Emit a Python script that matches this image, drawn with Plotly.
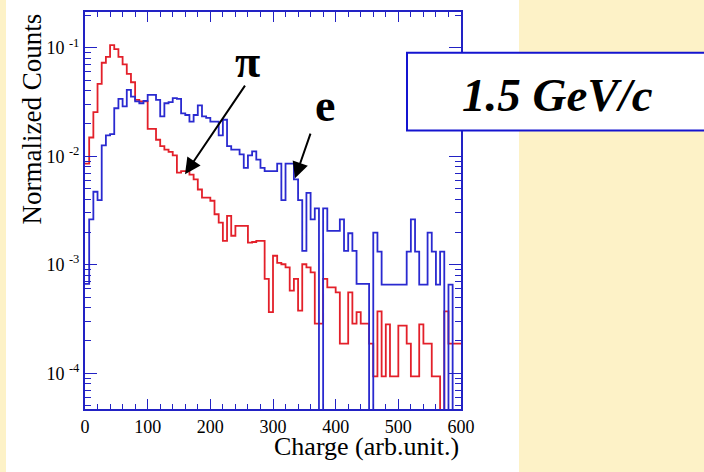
import plotly.graph_objects as go

# ---------------- data ----------------
x_min, x_max, n_bins = 0, 600, 90
bin_width = (x_max - x_min) / n_bins
bin_edges = [x_min + i * bin_width for i in range(n_bins + 1)]

pion_counts = [
    0.00857, 0.0149, 0.0255, 0.0465, 0.0728, 0.0826, 0.106, 0.0973, 0.0826, 0.0703,
    0.0574, 0.0481, 0.0331, 0.0320, 0.0320, 0.0179, 0.0179, 0.0142, 0.0124, 0.0115,
    0.0110, 0.0102, 0.00708, 0.00728, 0.00728, 0.00676, 0.00611, 0.00494, 0.00415, 0.00415,
    0.00389, 0.00292, 0.00244, 0.00166, 0.00282, 0.00185, 0.00228, 0.00228, 0.00228, 0.00160,
    0.00162, 0.00166, 0.00166, 0.000740, 0.000366, 0.00121, 0.00104, 0.00101, 0.000944, 0.000577,
    0.000740, 0.000378, 0.00101, 0.000944, 0.000851, 0.000286, 0.000286, 0.000740, 0.000619, 0.000619,
    0.000557, 0.000187, 0.000187, 0.000557, 0.000286, 0.000366, 0.000286, 0.000286, 0.000187, 0.0000933,
    0.000372, 0.0000933, 0.000282, 0.0000933, 0.0000933, 0.000275, 0.000275, 0.000187, 0.0000933, 0.0000933,
    0.000282, 0.000187, 0.000187, 0.0000933, 0.0000933, 0.0, 0.000372, 0.000187, 0.000187, 0.000187,
]

electron_counts = [
    0.000665, 0.00262, 0.00471, 0.00394, 0.0126, 0.0156, 0.0160, 0.0277, 0.0338, 0.0288,
    0.0409, 0.0355, 0.0320, 0.0308, 0.0324, 0.0368, 0.0368, 0.0331, 0.0233, 0.0308,
    0.0316, 0.0343, 0.0338, 0.0249, 0.0240, 0.0209, 0.0240, 0.0294, 0.0233, 0.0226,
    0.0209, 0.0209, 0.0156, 0.0217, 0.0124, 0.0115, 0.0115, 0.0104, 0.00782, 0.0102,
    0.0111, 0.00931, 0.00782, 0.00728, 0.00728, 0.00728, 0.00857, 0.00394, 0.00857, 0.00857,
    0.00611, 0.00394, 0.00134, 0.00460, 0.00262, 0.00331, 0.0, 0.00331, 0.00205, 0.00205,
    0.00205, 0.00262, 0.00134, 0.00195, 0.00134, 0.000665, 0.000665, 0.000665, 0.0, 0.00198,
    0.00132, 0.000656, 0.000656, 0.000656, 0.000656, 0.000656, 0.000656, 0.00132, 0.00262, 0.00132,
    0.000656, 0.000656, 0.00198, 0.00132, 0.000656, 0.00132, 0.0, 0.000656, 0.0, 0.0,
]

y_tick_vals = [1e-4, 1e-3, 1e-2, 1e-1]
y_tick_text = ["10 <sup>-4</sup>", "10 <sup>-3</sup>", "10 <sup>-2</sup>", "10 <sup>-1</sup>"]
x_tick_vals = [0, 100, 200, 300, 400, 500, 600]
y_minor_vals = [m * 10.0 ** e for e in range(-5, 0) for m in range(2, 10)]

# ---------------- styles ----------------
RED = "#e3202a"
BLUE = "#2a2ad0"
FRAME = "#2222c4"
CREAM = "#fdf2c7"
FONT = "Liberation Serif"
FLOOR = 1e-7  # empty bins drawn down to (below) the axis floor


def step_y(vals):
    v = [c if c > 0 else FLOOR for c in vals]
    return v + [v[-1]]


fig = go.Figure()
fig.add_trace(go.Scatter(x=bin_edges, y=step_y(pion_counts), mode="lines",
                         line=dict(color=RED, width=1.8, shape="hv"), name="pi"))
fig.add_trace(go.Scatter(x=bin_edges, y=step_y(electron_counts), mode="lines",
                         line=dict(color=BLUE, width=1.8, shape="hv"), name="e"))

L, R, T, B = 85, 243, 10, 63
W, H = 704, 472
pw, ph = W - L - R, H - T - B


def px(xpix):
    return (xpix - L) / pw


def py(ypix):
    return 1 - (ypix - T) / ph


fig.update_layout(
    width=W, height=H,
    margin=dict(l=L, r=R, t=T, b=B),
    paper_bgcolor=CREAM, plot_bgcolor="white",
    showlegend=False,
    font=dict(family=FONT, color="black"),
    xaxis=dict(range=[x_min, x_max], tickvals=x_tick_vals, ticks="inside", ticklen=10,
               tickwidth=1, tickcolor=FRAME, showline=True, linecolor=FRAME, linewidth=2,
               mirror="allticks", showgrid=False, zeroline=False,
               tickfont=dict(family=FONT, size=18, color="black"),
               minor=dict(ticks="inside", dtick=20, ticklen=5, tickwidth=1, tickcolor=FRAME,
                          showgrid=False)),
    yaxis=dict(type="log", range=[-4.33, -0.67], tickvals=y_tick_vals, ticktext=y_tick_text,
               ticks="inside", ticklen=12, tickwidth=1, tickcolor=FRAME,
               showline=True, linecolor=FRAME, linewidth=2, mirror="allticks",
               showgrid=False, zeroline=False,
               tickfont=dict(family=FONT, size=18, color="black"),
               minor=dict(ticks="inside", tickvals=y_minor_vals, ticklen=6, tickwidth=1,
                          tickcolor=FRAME, showgrid=False)),
    shapes=[
        dict(type="rect", xref="paper", yref="paper", x0=px(6), x1=px(519), y0=py(480), y1=py(-8),
             fillcolor="white", line=dict(width=0), layer="below"),
        dict(type="rect", xref="paper", yref="paper", x0=px(407), x1=px(730), y0=py(129), y1=py(51),
             fillcolor="white", line=dict(color="#1414d0", width=2), layer="above"),
    ],
    annotations=[
        dict(text="Charge (arb.unit.)", xref="paper", yref="paper", x=px(461), y=py(447),
             xanchor="right", yanchor="middle", showarrow=False,
             font=dict(family=FONT, size=26, color="black")),
        dict(text="Normalized Counts", xref="paper", yref="paper", x=px(32), y=py(118),
             xanchor="center", yanchor="middle", textangle=-90, showarrow=False,
             font=dict(family=FONT, size=27, color="black")),
        dict(text="<b>π</b>", xref="paper", yref="paper", x=px(247), y=py(60),
             xanchor="center", yanchor="middle", showarrow=False,
             font=dict(family=FONT, size=46, color="black")),
        dict(text="<b>e</b>", xref="paper", yref="paper", x=px(325), y=py(104),
             xanchor="center", yanchor="middle", showarrow=False,
             font=dict(family=FONT, size=46, color="black")),
        dict(text="", xref="paper", yref="paper", x=px(185), y=py(173), ax=61, ay=-90,
             showarrow=True, arrowhead=2, arrowsize=1.6, arrowwidth=2, arrowcolor="black"),
        dict(text="", xref="paper", yref="paper", x=px(295), y=py(177), ax=16, ay=-46,
             showarrow=True, arrowhead=2, arrowsize=1.6, arrowwidth=2, arrowcolor="black"),
        dict(text="<b><i>1.5 GeV/c</i></b>", xref="paper", yref="paper", x=px(557), y=py(93),
             xanchor="center", yanchor="middle", showarrow=False,
             font=dict(family=FONT, size=47, color="black")),
    ],
)

fig.write_html("out.html")
